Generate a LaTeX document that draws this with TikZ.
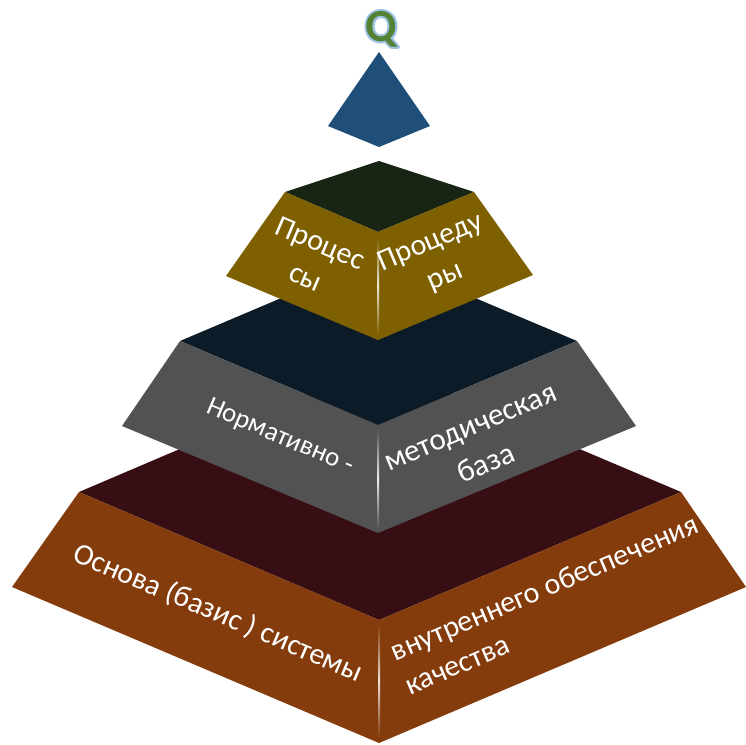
\documentclass[tikz,border=0pt]{standalone}
\usepackage{fontspec}
\setmainfont{Carlito}
\definecolor{bluepyr}{HTML}{1F4E79}
\definecolor{goldside}{HTML}{7F6000}
\definecolor{goldtop}{HTML}{182414}
\definecolor{grayside}{HTML}{525252}
\definecolor{graytop}{HTML}{0B1C28}
\definecolor{brownside}{HTML}{843C0C}
\definecolor{browntop}{HTML}{360E14}
\definecolor{qgreen}{HTML}{548235}
\tikzset{
  facetxt/.style={text=white, inner sep=0pt, font=\fontsize{30}{37}\selectfont},
  smalltxt/.style={text=white, inner sep=0pt, font=\fontsize{27}{37}\selectfont},
  qtxt/.style={inner sep=0pt, text=qgreen, font=\fontsize{46}{46}\selectfont\bfseries},
}
\newcommand{\glowQ}{\rlap{\special{pdf:literal direct 1 Tr 4 w 1 j 0.616 0.765 0.902 RG}Q\special{pdf:literal direct 0 Tr}}Q}
\begin{document}
\begin{tikzpicture}[x=1pt,y=-1pt]
\useasboundingbox (0,0) rectangle (746,744);
% ---------- bottom layer (brown)
\fill[browntop] (379,364) -- (79,492) -- (379,620) -- (681,492) -- cycle;
\fill[brownside] (79,492) -- (379,620) -- (379,743) -- (12,587) -- cycle;
\fill[brownside] (379,620) -- (681,492) -- (746,587) -- (379,743) -- cycle;
\shade[top color=brownside, bottom color=brownside, middle color=white!85!brownside] (378,624) rectangle (380,738);
% ---------- middle layer (gray)
\fill[graytop] (378,257) -- (180,341) -- (378,425) -- (577,341) -- cycle;
\fill[grayside] (180,341) -- (378,425) -- (378,533) -- (122,426) -- cycle;
\fill[grayside] (378,425) -- (577,341) -- (636,426) -- (378,533) -- cycle;
\shade[top color=grayside, bottom color=grayside, middle color=white!90!grayside] (377,429) rectangle (379,529);
% ---------- upper layer (gold)
\fill[goldtop] (379,161) -- (285,192) -- (378,232) -- (474,192) -- cycle;
\fill[goldside] (285,192) -- (378,232) -- (378,340) -- (226,276) -- cycle;
\fill[goldside] (378,232) -- (474,192) -- (533,275) -- (378,340) -- cycle;
\shade[top color=goldside, bottom color=goldside, middle color=white!85!goldside] (377,236) rectangle (379,336);
% ---------- top pyramid (blue)
\fill[bluepyr] (379,52) -- (430,126) -- (379,147) -- (328,126) -- cycle;
% ---------- Q
\node[qtxt] (q) at (381,29) {\glowQ};
% ---------- texts
\node[facetxt, rotate=-23, align=center] (t1) at (313,260) {Процес\\сы};
\node[facetxt, rotate=23, align=center] (t2) at (438,260) {Процеду\\ры};
\node[smalltxt, rotate=-23] (t3) at (280,437) {Нормативно -};
\node[facetxt, rotate=23, align=center, font=\fontsize{31}{40}\selectfont] (t4) at (479,447) {методическая\\база};
\node[facetxt, rotate=-23] (t5) at (218,613) {Основа (базис ) системы};
\node[facetxt, rotate=23, align=left, anchor=west] (t6) at (399,669) {внутреннего обеспечения\\качества};
\end{tikzpicture}
\end{document}
